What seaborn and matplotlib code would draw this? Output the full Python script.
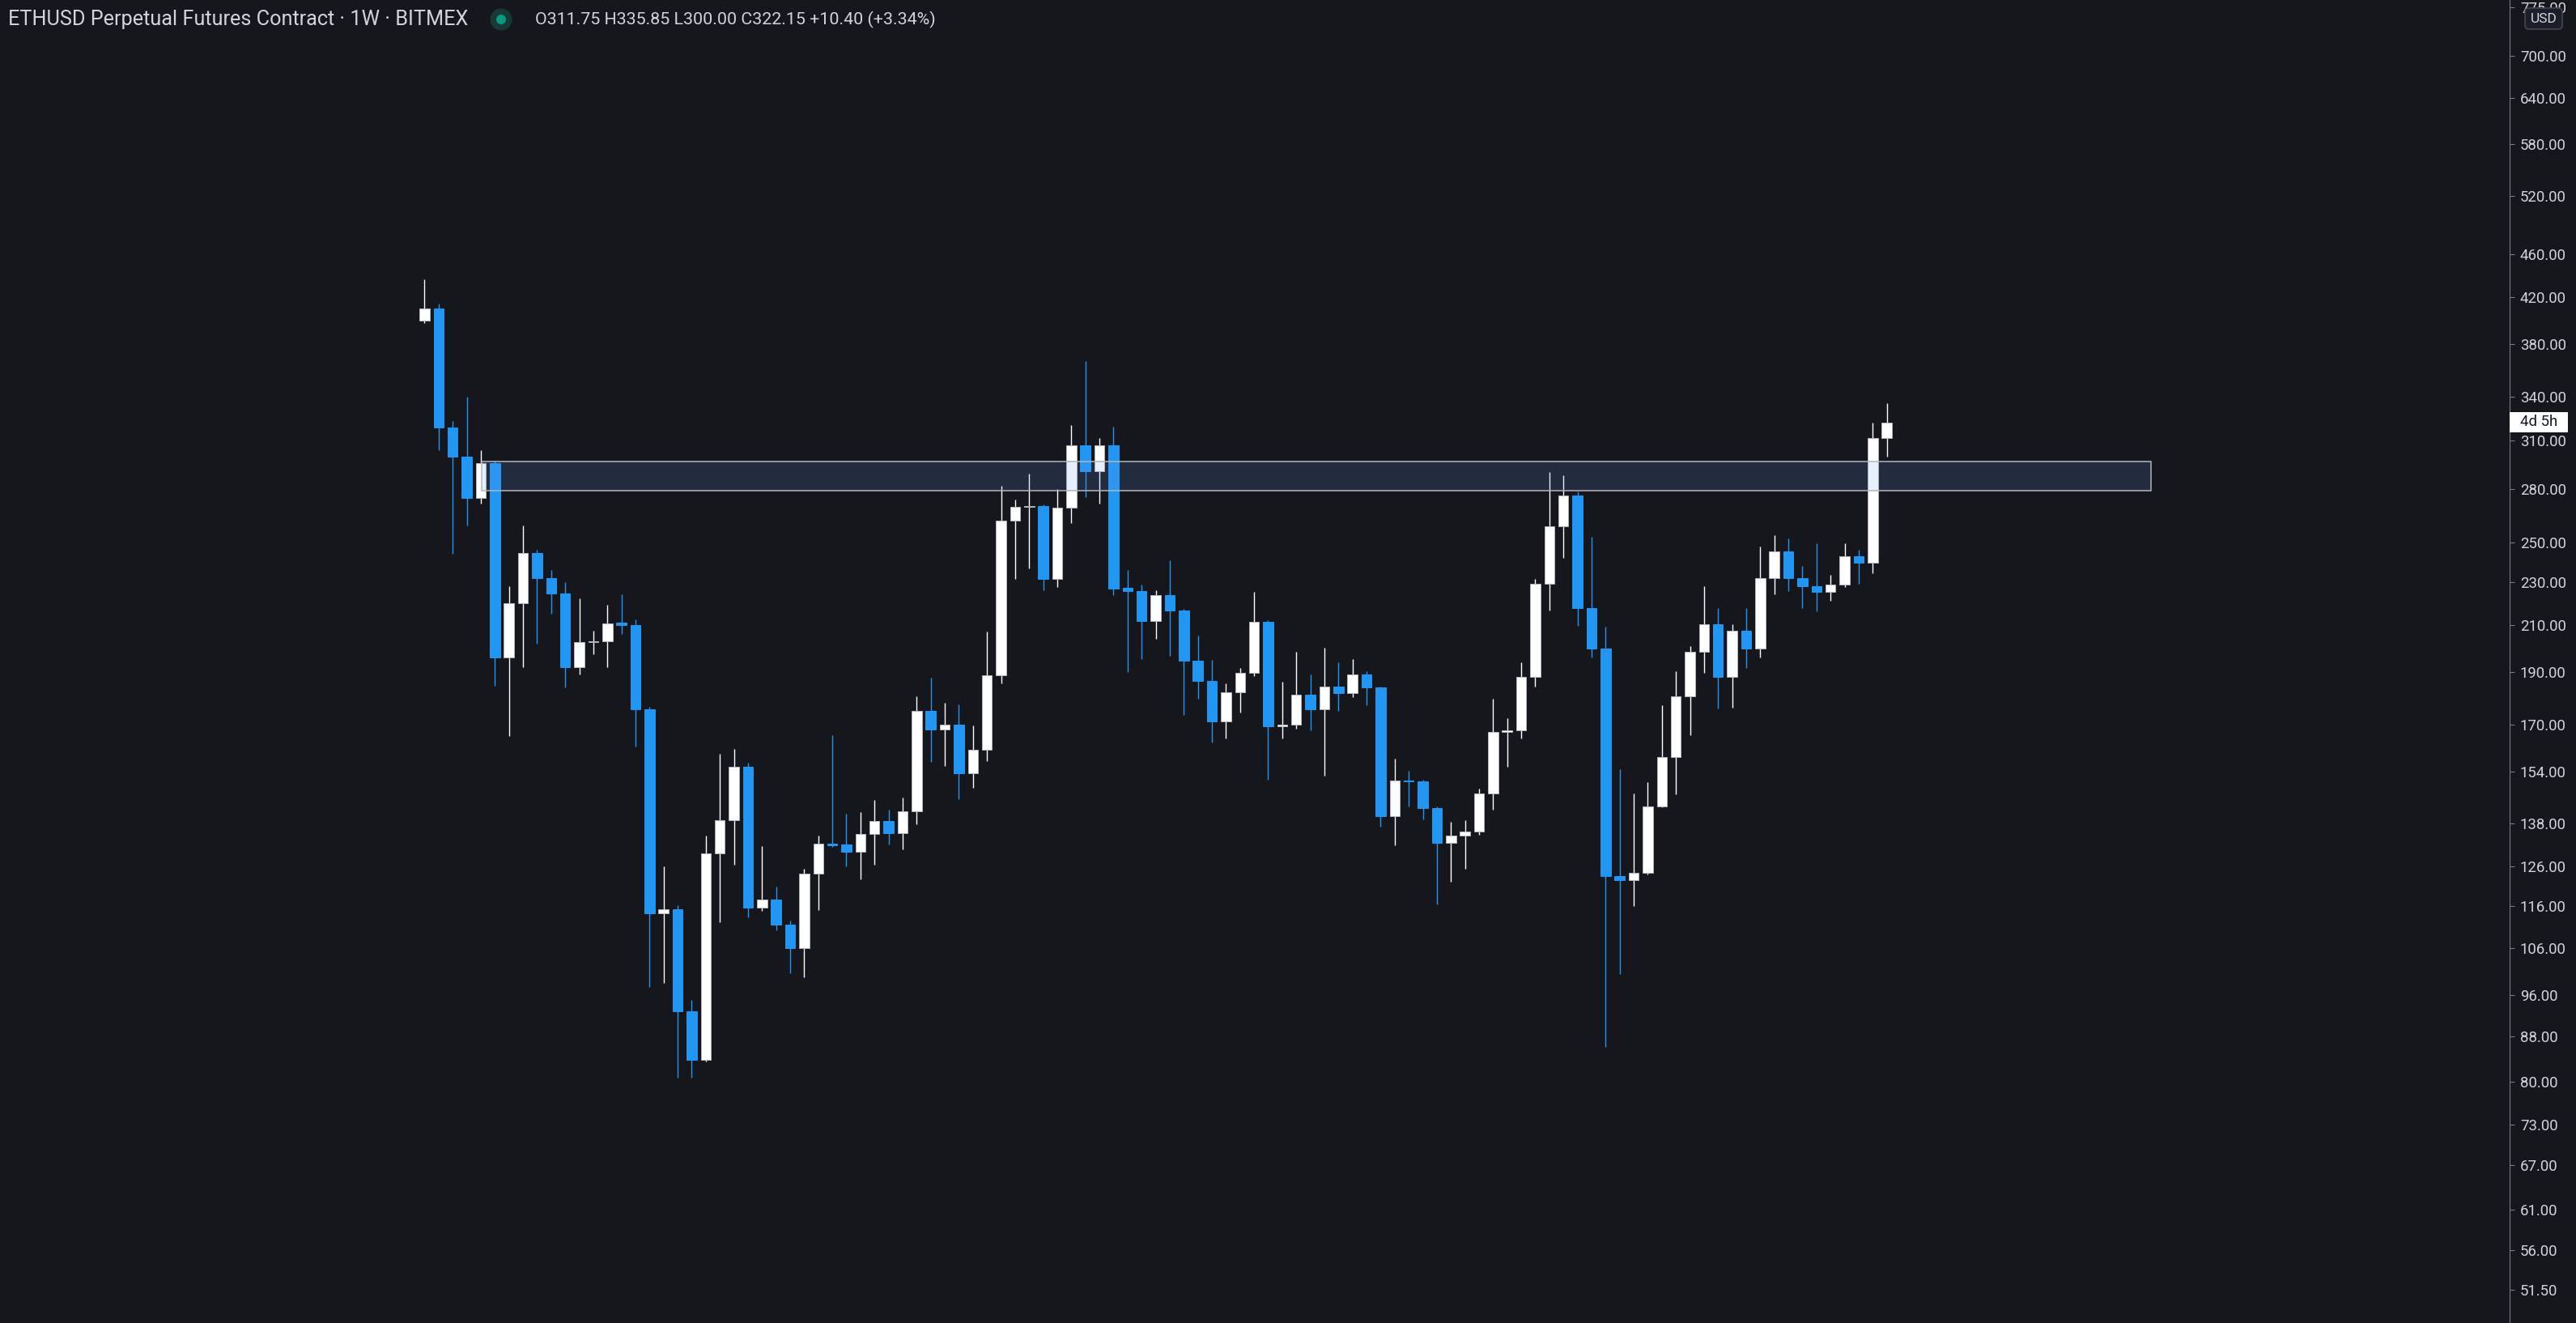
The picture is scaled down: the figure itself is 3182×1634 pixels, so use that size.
import numpy as np
import matplotlib
matplotlib.use('Agg')
import matplotlib.pyplot as plt
import seaborn as sns
from matplotlib.patches import Rectangle, Circle, FancyBboxPatch
from matplotlib.ticker import FixedLocator, NullLocator, FormatStrFormatter
from matplotlib.transforms import IdentityTransform

# weekly candles ETHUSD (BitMEX)
opens = [400, 410, 319, 300, 274.5, 295.5, 196, 220, 244.6, 232,
         224.6, 192, 202.4, 203, 211, 210, 175.7, 114.1, 115.2, 92.8,
         83.7, 129.6, 139.1, 155.7, 115.5, 117.5, 111.5, 106, 124.2, 132.3,
         132, 129.9, 135, 138.7, 135.3, 141.6, 175, 168.3, 170.2, 153.4,
         161.3, 188.7, 261.7, 269.4, 270, 231.4, 269, 307.2, 290.6, 306.8,
         227, 225.6, 211.8, 223.6, 216.5, 194.7, 186.5, 171.2, 182, 189.7,
         211.3, 169.5, 170.2, 181.3, 175.6, 184.5, 181.8, 189.2, 184, 140.2,
         151.2, 150.8, 142.5, 132.4, 134.6, 135.6, 147, 167.4, 168, 188.3,
         229.3, 258.9, 276.3, 217.7, 199.7, 123.5, 122.5, 124.4, 143.2, 158.9,
         180.5, 198.4, 210.5, 188.2, 207.6, 199.7, 232, 245.5, 231.8, 228,
         225.3, 228.6, 243, 239.5, 311.75]
highs = [436, 414, 323, 340, 304, 297, 228, 259, 246, 236,
         230, 222, 207.6, 219, 224, 212.4, 176.5, 126, 116.2, 95.1,
         134.6, 159.8, 161.5, 156.9, 131.6, 120.7, 112.4, 125.4, 134.6, 166.3,
         141, 141.4, 145, 142, 145.8, 180.7, 187.9, 178.2, 177.4, 169.7,
         207.1, 282.1, 274, 289.3, 270.9, 280.1, 320.4, 366.9, 312, 319.3,
         236, 228.9, 226.1, 240.6, 217.4, 205.4, 195, 185.6, 191.7, 225.3,
         212.1, 186.3, 198.5, 189.1, 200.3, 194, 195.3, 190.6, 184.5, 158.2,
         154.2, 151.5, 143, 138.5, 138.9, 148.5, 179.6, 172.3, 194, 231.6,
         290.2, 288.3, 278.6, 253.2, 209.1, 154.7, 147.1, 150.7, 177.3, 190.3,
         200.8, 227.8, 217.8, 210.5, 217.8, 248, 254.1, 252, 238.1, 249.4,
         233.6, 249.4, 246.2, 322.3, 335.85]
lows = [397.6, 304, 244, 259, 271.5, 184.6, 166, 192, 202, 215,
        184, 189, 197.3, 192, 206, 162.4, 97.6, 98.6, 80.6, 80.7,
        83.4, 112.1, 126.6, 113.1, 114.7, 110.1, 100.5, 99.7, 115, 131.3,
        126, 122.6, 126.4, 132, 130.6, 137.7, 157.1, 156, 145.2, 148.9,
        157.5, 185.7, 231.3, 236.6, 226.1, 227.4, 260.5, 275, 271.3, 223.6,
        190.2, 195.3, 203.8, 196.6, 173.6, 179.8, 163.9, 165.1, 174.4, 188.4,
        151.5, 165.1, 168.6, 168, 152.6, 175.2, 180.3, 177.3, 137.2, 131.8,
        143, 139.2, 116.4, 122.1, 125.5, 134.7, 142.1, 155.6, 165.1, 184.5,
        216.4, 241.9, 209.5, 196, 86, 100.4, 116, 124, 142.8, 146.7,
        166.3, 189.7, 176, 176.3, 191.6, 196.1, 224.2, 225.7, 217.8, 216.3,
        221.1, 227.5, 229, 234.1, 300]
closes = [410, 319, 300, 274.5, 295.5, 196, 220, 244.6, 232, 224.6,
          192, 202.4, 203, 210.7, 210, 175.7, 114.1, 115.2, 92.8, 83.7,
          129.6, 139.1, 155.7, 115.5, 117.5, 111.5, 106, 124.2, 132.3, 131.8,
          129.9, 135, 138.7, 135.3, 141.6, 175, 168.3, 170.2, 153.4, 161.3,
          188.7, 261.7, 269.4, 270, 231.4, 269, 307.2, 290.6, 306.8, 226.7,
          225.6, 211.8, 223.6, 216.5, 194.7, 186.5, 171.2, 182, 189.7, 211.3,
          169.5, 170.2, 181.3, 175.6, 184.5, 181.8, 189.2, 184, 140.2, 151.2,
          150.8, 142.5, 132.4, 134.6, 135.6, 147, 167.4, 168, 188.3, 229.3,
          258.9, 276.3, 217.7, 199.7, 123.5, 122.5, 124.4, 143.2, 158.9, 180.5,
          198.4, 210.5, 188.2, 207.6, 199.7, 232, 245.5, 231.8, 228, 225.3,
          228.6, 243, 239.5, 311.75, 322.15]

tick_values = [51.5, 56, 61, 67, 73, 80, 88, 96, 106, 116, 126, 138, 154, 170,
               190, 210, 230, 250, 280, 310, 340, 380, 420, 460, 520, 580, 640, 700, 775]

# resistance zone
zone_low, zone_high = 278.8, 296.7
zone_start, zone_end = 4.05, 122.8

title = 'ETHUSD Perpetual Futures Contract · 1W · BITMEX'
ohlc_text = 'O311.75 H335.85 L300.00 C322.15 +10.40 (+3.34%)'
timer_text = '4d 5h'

bg = '#16171d'
up_col = '#ffffff'
down_col = '#2196f3'
txt_col = '#d1d4dc'

sns.set_theme(style='dark', rc={'axes.facecolor': bg, 'figure.facecolor': bg,
                                'axes.grid': False})
plt.rcParams['font.family'] = ['Roboto', 'DejaVu Sans']

W, H = 3182, 1634
fig = plt.figure(figsize=(W / 100, H / 100), dpi=100, facecolor=bg)
ax = fig.add_axes([0, 0, 3100 / W, 1])
ax.set_facecolor(bg)
ax.set_yscale('log')

o = np.array(opens)
c = np.array(closes)
idx = np.arange(len(o))
up = c >= o
body_col = np.where(up, up_col, down_col)
edge_col = np.where(up, '#b2b5be', down_col)

ax.vlines(idx, lows, highs, colors=body_col, lw=1.0, zorder=2)
ax.bar(idx, np.abs(c - o), bottom=np.minimum(o, c), width=0.72,
       color=body_col, edgecolor=edge_col, linewidth=0.7, zorder=3)

ax.add_patch(Rectangle((zone_start, zone_low), zone_end - zone_start, zone_high - zone_low,
                       facecolor=(106 / 255, 152 / 255, 242 / 255, 0.16),
                       edgecolor='#b2b5be', lw=1.1, zorder=4))

ax.set_xlim(-30.2, 148.3)
ax.set_ylim(48.0, 787.3)
ax.set_xticks([])
ax.yaxis.tick_right()
ax.yaxis.set_major_locator(FixedLocator(tick_values))
ax.yaxis.set_minor_locator(NullLocator())
ax.yaxis.set_major_formatter(FormatStrFormatter('%.2f'))
ax.tick_params(axis='y', which='major', length=4.3, width=0.8, color='#787b86',
               labelcolor=txt_col, labelsize=13.4, pad=5)
for s in ['top', 'left', 'bottom']:
    ax.spines[s].set_visible(False)
ax.spines['right'].set_color('#787b86')
ax.spines['right'].set_linewidth(0.8)

# header
fig.text(10 / W, 1 - 24 / H, title, ha='left', va='center', fontsize=18.2, color=txt_col)
fig.add_artist(Circle((619, H - 24), 13.5, transform=IdentityTransform(),
                      facecolor='#173a36', edgecolor='none'))
fig.add_artist(Circle((619, H - 24), 6, transform=IdentityTransform(),
                      facecolor='#089981', edgecolor='none'))
fig.text(661 / W, 1 - 24 / H, ohlc_text, ha='left', va='center', fontsize=15.4, color=txt_col)

# currency badge and countdown label on the price scale
fig.add_artist(FancyBboxPatch((3119, H - 36), 46, 26, boxstyle='round,pad=0,rounding_size=5',
                              transform=IdentityTransform(), facecolor='#1c1f2a',
                              edgecolor='#434651', lw=1.2))
fig.text(3142 / W, 1 - 23 / H, 'USD', ha='center', va='center', fontsize=12.5, color=txt_col)
fig.add_artist(Rectangle((3100, H - 534), 72, 25, transform=IdentityTransform(),
                         facecolor='#ffffff', edgecolor='none'))
fig.text(3113 / W, 1 - 521.5 / H, timer_text, ha='left', va='center', fontsize=13.4, color='#131722')

fig.savefig('out.png', dpi=100, facecolor=bg)
